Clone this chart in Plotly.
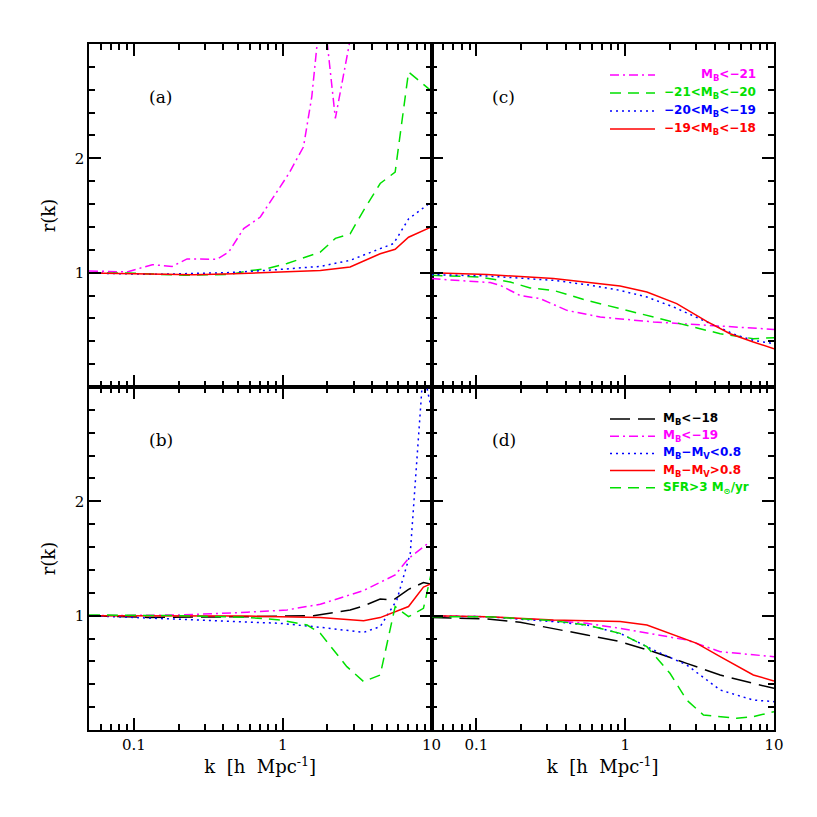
import numpy as np
import plotly.graph_objects as go
from plotly.subplots import make_subplots

# ---- panel (a): luminosity bins, r(k) top-left
a_k_mb21 = [0.050, 0.090, 0.133, 0.181, 0.228, 0.362, 0.434, 0.547, 0.708, 0.870, 1.10, 1.38, 1.57, 1.84, 2.26, 2.90]
a_r_mb21 = [1.015, 1.006, 1.07, 1.055, 1.12, 1.117, 1.18, 1.385, 1.487, 1.66, 1.866, 2.10, 2.54, 3.43, 2.35, 3.10]
a_k_mb20 = [0.050, 0.090, 0.217, 0.446, 0.577, 0.785, 1.07, 1.79, 2.26, 2.84, 3.50, 4.52, 5.70, 7.01, 9.55, 10.0]
a_r_mb20 = [0.997, 0.997, 0.977, 0.985, 1.015, 1.035, 1.08, 1.18, 1.30, 1.34, 1.545, 1.78, 1.88, 2.755, 2.61, 2.59]
a_k_mb19 = [0.050, 0.136, 0.423, 0.785, 1.79, 2.84, 4.52, 5.56, 7.01, 10.0]
a_r_mb19 = [0.997, 0.985, 1.0, 1.02, 1.055, 1.108, 1.21, 1.254, 1.47, 1.62]
a_k_mb18 = [0.050, 0.253, 0.469, 0.785, 1.79, 2.84, 3.50, 4.52, 5.70, 7.01, 10.0]
a_r_mb18 = [0.997, 0.982, 0.99, 1.0, 1.02, 1.05, 1.10, 1.166, 1.204, 1.31, 1.40]

# ---- panel (c): same bins, second statistic
c_k_mb21 = [0.050, 0.124, 0.145, 0.197, 0.269, 0.406, 0.680, 1.55, 3.53, 5.92, 10.0]
c_r_mb21 = [0.948, 0.913, 0.889, 0.80, 0.773, 0.67, 0.612, 0.569, 0.54, 0.525, 0.504]
c_k_mb20 = [0.050, 0.106, 0.169, 0.230, 0.330, 0.553, 0.925, 1.55, 2.59, 4.35, 7.26, 10.0]
c_r_mb20 = [0.977, 0.962, 0.918, 0.866, 0.845, 0.758, 0.685, 0.612, 0.534, 0.466, 0.423, 0.431]
c_k_mb19 = [0.050, 0.118, 0.330, 0.553, 0.925, 1.40, 2.11, 3.36, 5.61, 7.26, 10.0]
c_r_mb19 = [0.983, 0.971, 0.933, 0.895, 0.845, 0.787, 0.70, 0.583, 0.452, 0.408, 0.379]
c_k_mb18 = [0.050, 0.118, 0.330, 0.553, 0.925, 1.40, 2.22, 3.53, 5.07, 7.26, 10.0]
c_r_mb18 = [1.0, 0.983, 0.948, 0.913, 0.883, 0.831, 0.729, 0.574, 0.466, 0.394, 0.335]

# ---- panel (b): selections
b_k_all = [0.050, 0.123, 0.577, 1.61, 2.84, 3.50, 4.52, 5.56, 7.01, 8.83, 10.0]
b_r_all = [1.0, 0.985, 0.991, 1.0, 1.05, 1.085, 1.146, 1.137, 1.23, 1.29, 1.274]
b_k_bright = [0.050, 0.205, 0.577, 1.07, 1.79, 3.50, 5.70, 7.01, 10.0]
b_r_bright = [1.0, 1.006, 1.03, 1.05, 1.10, 1.22, 1.356, 1.50, 1.656]
b_k_blue = [0.050, 0.205, 0.964, 1.79, 3.50, 4.52, 5.85, 7.2, 8.8, 10.0]
b_r_blue = [1.0, 0.971, 0.933, 0.898, 0.854, 0.904, 1.137, 1.545, 3.15, 2.8]
b_k_red = [0.050, 0.577, 1.79, 3.50, 4.52, 5.56, 7.01, 8.83, 10.0]
b_r_red = [1.0, 0.997, 0.985, 0.956, 0.983, 1.03, 1.08, 1.25, 1.28]
b_k_sfr = [0.050, 0.205, 0.577, 0.964, 1.46, 1.79, 2.70, 3.50, 4.52, 5.70, 7.01, 8.83, 10.0]
b_r_sfr = [1.006, 1.0, 0.985, 0.962, 0.918, 0.845, 0.554, 0.423, 0.481, 1.08, 0.991, 1.064, 1.38]

# ---- panel (d)
d_k_all = [0.050, 0.118, 0.197, 0.330, 0.553, 0.925, 1.55, 2.59, 4.35, 7.26, 10.0]
d_r_all = [0.985, 0.971, 0.942, 0.889, 0.831, 0.773, 0.685, 0.583, 0.481, 0.408, 0.364]
d_k_bright = [0.050, 0.118, 0.330, 0.553, 0.925, 1.55, 2.59, 4.35, 7.26, 10.0]
d_r_bright = [0.997, 0.991, 0.956, 0.933, 0.889, 0.837, 0.787, 0.685, 0.656, 0.641]
d_k_blue = [0.050, 0.118, 0.330, 0.553, 0.925, 1.55, 2.59, 4.35, 7.26, 10.0]
d_r_blue = [0.997, 0.991, 0.948, 0.918, 0.845, 0.70, 0.569, 0.35, 0.262, 0.248]
d_k_red = [0.050, 0.118, 0.330, 0.553, 0.925, 1.40, 2.0, 3.03, 4.35, 7.26, 10.0]
d_r_red = [1.0, 0.991, 0.962, 0.953, 0.948, 0.918, 0.845, 0.758, 0.641, 0.481, 0.429]
d_k_sfr = [0.050, 0.118, 0.330, 0.553, 0.925, 1.40, 2.0, 2.59, 3.36, 5.61, 7.26, 10.0]
d_r_sfr = [0.991, 0.991, 0.956, 0.918, 0.845, 0.729, 0.496, 0.262, 0.131, 0.102, 0.117, 0.160]

x_ticks = [0.1, 1, 10]
x_ticktext = ["0.1", "1", "10"]
y_ticks = [1, 2]
y_ticktext = ["1", "2"]

MAG, GRN, BLU, RED, BLK = "#ff00ff", "#00e000", "#0000ff", "#ff0000", "#000000"
DASHDOT = "9px,4px,2px,4px"
DASH = "11px,7px"
DOT = "2px,4px"
LONG = "20px,8px"

leg_c = [("M<sub>B</sub>&lt;−21", MAG, DASHDOT),
         ("−21&lt;M<sub>B</sub>&lt;−20", GRN, DASH),
         ("−20&lt;M<sub>B</sub>&lt;−19", BLU, DOT),
         ("−19&lt;M<sub>B</sub>&lt;−18", RED, "solid")]
leg_d = [("M<sub>B</sub>&lt;−18", BLK, LONG),
         ("M<sub>B</sub>&lt;−19", MAG, DASHDOT),
         ("M<sub>B</sub>−M<sub>V</sub>&lt;0.8", BLU, DOT),
         ("M<sub>B</sub>−M<sub>V</sub>&gt;0.8", RED, "solid"),
         ("SFR&gt;3 M<sub>⊙</sub>/yr", GRN, DASH)]

fig = make_subplots(rows=2, cols=2, horizontal_spacing=0, vertical_spacing=0)

def add(k, r, color, dash, row, col):
    fig.add_trace(go.Scatter(x=k, y=r, mode="lines", showlegend=False,
                             line=dict(color=color, width=1.5, dash=dash)),
                  row=row, col=col)

add(a_k_mb21, a_r_mb21, MAG, DASHDOT, 1, 1)
add(a_k_mb20, a_r_mb20, GRN, DASH, 1, 1)
add(a_k_mb19, a_r_mb19, BLU, DOT, 1, 1)
add(a_k_mb18, a_r_mb18, RED, "solid", 1, 1)

add(c_k_mb21, c_r_mb21, MAG, DASHDOT, 1, 2)
add(c_k_mb20, c_r_mb20, GRN, DASH, 1, 2)
add(c_k_mb19, c_r_mb19, BLU, DOT, 1, 2)
add(c_k_mb18, c_r_mb18, RED, "solid", 1, 2)

add(b_k_all, b_r_all, BLK, LONG, 2, 1)
add(b_k_bright, b_r_bright, MAG, DASHDOT, 2, 1)
add(b_k_blue, b_r_blue, BLU, DOT, 2, 1)
add(b_k_red, b_r_red, RED, "solid", 2, 1)
add(b_k_sfr, b_r_sfr, GRN, DASH, 2, 1)

add(d_k_all, d_r_all, BLK, LONG, 2, 2)
add(d_k_bright, d_r_bright, MAG, DASHDOT, 2, 2)
add(d_k_blue, d_r_blue, BLU, DOT, 2, 2)
add(d_k_red, d_r_red, RED, "solid", 2, 2)
add(d_k_sfr, d_r_sfr, GRN, DASH, 2, 2)

x_minor = [m * 10.0 ** e for e in (-2, -1, 0) for m in range(2, 10) if 0.05 <= m * 10.0 ** e <= 10]
y_minor = [round(v, 1) for v in np.arange(0.2, 3.0, 0.2)]

serif = "DejaVu Serif"
axis_common = dict(showline=True, linecolor="black", linewidth=1.5, mirror="allticks",
                   ticks="inside", ticklen=12, tickwidth=1.5, tickcolor="black",
                   showgrid=False, zeroline=False,
                   tickfont=dict(family=serif, size=15, color="black"))
minor_common = dict(tickmode="array", ticks="inside", ticklen=6, tickwidth=1.5,
                    tickcolor="black", showgrid=False)

for row in (1, 2):
    for col in (1, 2):
        fig.update_xaxes(type="log", range=[np.log10(0.05), 1.0],
                         tickmode="array", tickvals=x_ticks, ticktext=x_ticktext,
                         showticklabels=(row == 2),
                         minor=dict(tickvals=x_minor, **minor_common),
                         row=row, col=col, **axis_common)
        fig.update_yaxes(range=[0, 3], tickmode="array", tickvals=y_ticks, ticktext=y_ticktext,
                         showticklabels=(col == 1),
                         minor=dict(tickvals=y_minor, **minor_common),
                         row=row, col=col, **axis_common)
        if row == 2:
            fig.update_xaxes(title=dict(text="k  [h  Mpc<sup>-1</sup>]", standoff=8,
                                        font=dict(family=serif, size=18, color="black")),
                             row=row, col=col)
        if col == 1:
            fig.update_yaxes(title=dict(text="r(k)", standoff=14,
                                        font=dict(family=serif, size=18, color="black")),
                             row=row, col=col)

# panel letters
for lab, ax in (("(a)", "x"), ("(c)", "x2"), ("(b)", "x3"), ("(d)", "x4")):
    fig.add_annotation(text=lab, xref=ax + " domain", yref=ax.replace("x", "y") + " domain",
                       x=0.17, y=0.88, showarrow=False,
                       font=dict(family=serif, size=17, color="black"))

# legends drawn inside panels (c) and (d); positions in screen pixels of the plot area
X0, Y1 = 89.0, 730.0
W, H = 685.0, 686.0
def px(X): return (X - X0) / W
def py(Y): return (Y1 - Y) / H

legfont = "DejaVu Sans"
for i, (txt, col, dash) in enumerate(leg_c):
    Y = 75 + i * 18
    fig.add_shape(type="line", xref="paper", yref="paper", x0=px(610), x1=px(655), y0=py(Y), y1=py(Y),
                  line=dict(color=col, width=1.5, dash=dash))
    fig.add_annotation(text="<b>" + txt + "</b>", xref="paper", yref="paper", x=px(758), y=py(Y),
                       xanchor="right", yanchor="middle", showarrow=False,
                       font=dict(family=legfont, size=12, color=col))
for i, (txt, col, dash) in enumerate(leg_d):
    Y = 419 + i * 17.2
    fig.add_shape(type="line", xref="paper", yref="paper", x0=px(610), x1=px(655), y0=py(Y), y1=py(Y),
                  line=dict(color=col, width=1.5, dash=dash))
    fig.add_annotation(text="<b>" + txt + "</b>", xref="paper", yref="paper", x=px(661), y=py(Y),
                       xanchor="left", yanchor="middle", showarrow=False,
                       font=dict(family=legfont, size=12, color=col))

# page body adds ~8px offset, so margins are shifted to land the plot area where the reference has it
fig.update_layout(width=817, height=817, margin=dict(l=81, r=51, t=36, b=95),
                  paper_bgcolor="white", plot_bgcolor="white", showlegend=False)

fig.write_html("out.html")
